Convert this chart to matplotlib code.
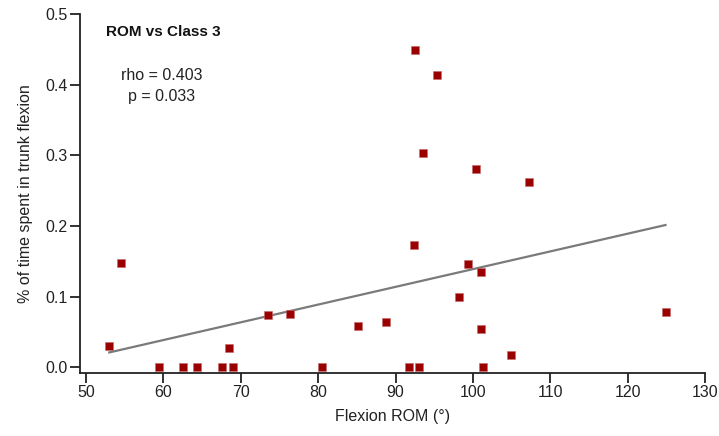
import matplotlib.pyplot as plt
import numpy as np

plt.rcParams['font.family'] = ['Liberation Sans', 'DejaVu Sans']

# flexion range of motion (deg) and share of time in trunk flexion
rom = [53.0, 54.5, 59.4, 62.5, 64.4, 67.6, 68.5, 69.0, 73.5, 76.3, 80.5, 85.2,
       88.8, 91.7, 93.0, 92.4, 98.2, 99.4, 101.1, 101.0, 101.3, 104.9, 124.9,
       92.5, 95.3, 93.5, 100.4, 107.2]
time_flex = [0.031, 0.148, 0.0, 0.0, 0.0, 0.0, 0.028, 0.0, 0.074, 0.076, 0.0, 0.058,
             0.064, 0.0, 0.0, 0.173, 0.100, 0.146, 0.135, 0.054, 0.0, 0.017, 0.078,
             0.449, 0.414, 0.304, 0.281, 0.262]
xticks = [50, 60, 70, 80, 90, 100, 110, 120, 130]
yticks = [0.0, 0.1, 0.2, 0.3, 0.4, 0.5]
rho_txt = 'rho = 0.403\np = 0.033'

fig = plt.figure(figsize=(7.19, 4.36), dpi=100)
ax = fig.add_axes([0.1113, 0.1445, 0.8692, 0.8234])

x = np.array(rom)
y = np.array(time_flex)

# least squares trend line across the data range
k, b = np.polyfit(x, y, 1)
xl = np.array([x.min(), x.max()])
ax.plot(xl, k*xl + b, color='#7a7a7a', lw=1.6, zorder=2)

ax.scatter(x, y, marker='s', s=32, color='#9b0000', edgecolors='#c46a6a',
           linewidths=0.4, zorder=3)

ax.set_xlim(49.22, 130)
ax.set_ylim(-0.0078, 0.5)
ax.set_xticks(xticks)
ax.set_yticks(yticks)
ax.set_xticklabels([str(t) for t in xticks])
ax.set_yticklabels(['%.1f' % t for t in yticks])

for s in ['top', 'right']:
    ax.spines[s].set_visible(False)
for s in ['left', 'bottom']:
    ax.spines[s].set_linewidth(1.3)
    ax.spines[s].set_color('#222222')
ax.tick_params(length=7, width=1.3, color='#222222', labelsize=11.5,
               labelcolor='#222222')
ax.tick_params(axis='x', pad=2)
ax.tick_params(axis='y', pad=2)

ax.set_xlabel('Flexion ROM (°)', fontsize=11.5, color='#222222', labelpad=6)
ax.set_ylabel('% of time spent in trunk flexion', fontsize=11.5, color='#222222',
              labelpad=9)

ax.text(52.6, 0.474, 'ROM vs Class 3', fontsize=11, fontweight='bold',
        ha='left', va='center', color='#111111')
ax.text(59.8, 0.398, rho_txt, fontsize=11.5, ha='center', va='center',
        color='#222222', linespacing=1.45)

fig.savefig('out.png', dpi=100)
